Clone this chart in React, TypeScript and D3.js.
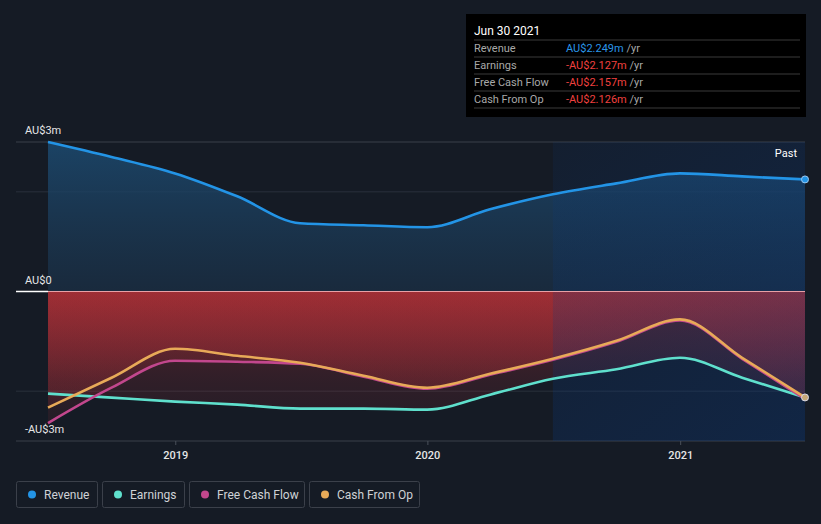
import React from "react";
import * as d3 from "d3";

const quarters = [
  "2018-06-30", "2018-09-30", "2018-12-31", "2019-03-31", "2019-06-30",
  "2019-09-30", "2019-12-31", "2020-03-31", "2020-06-30", "2020-09-30",
  "2020-12-31", "2021-03-31", "2021-06-30",
];
const revenue = [3.0, 2.7, 2.37, 1.91, 1.37, 1.33, 1.29, 1.65, 1.95, 2.17, 2.37, 2.31, 2.249];
const earnings = [-2.05, -2.13, -2.21, -2.27, -2.35, -2.35, -2.37, -2.07, -1.75, -1.56, -1.33, -1.73, -2.127];
const freeCashFlow = [-2.64, -1.93, -1.39, -1.41, -1.45, -1.71, -1.95, -1.67, -1.37, -1.01, -0.58, -1.35, -2.157];
const cashFromOp = [-2.33, -1.73, -1.15, -1.29, -1.43, -1.69, -1.93, -1.65, -1.35, -0.99, -0.56, -1.33, -2.126];

const yTickLabels = [
  { v: 3, label: "AU$3m" },
  { v: 0, label: "AU$0" },
  { v: -3, label: "-AU$3m" },
];
const gridValues = [3, 2, -2, -3];
const xTickYears = ["2019-01-01", "2020-01-01", "2021-01-01"];
const pastStart = "2020-06-30";

const tooltipTitle = "Jun 30 2021";
const tooltipRows = [
  { name: "Revenue", value: "AU$2.249m", neg: false },
  { name: "Earnings", value: "-AU$2.127m", neg: true },
  { name: "Free Cash Flow", value: "-AU$2.157m", neg: true },
  { name: "Cash From Op", value: "-AU$2.126m", neg: true },
];

const COLORS = {
  revenue: "#2394e6",
  earnings: "#5fe0cd",
  fcf: "#c2478d",
  cfo: "#e8aa58",
};
const legendItems = [
  { name: "Revenue", color: COLORS.revenue },
  { name: "Earnings", color: COLORS.earnings },
  { name: "Free Cash Flow", color: COLORS.fcf },
  { name: "Cash From Op", color: COLORS.cfo },
];

const W = 821;
const H = 524;
const FONT = "Roboto, 'Open Sans', sans-serif";

export default function App() {
  const parse = d3.timeParse("%Y-%m-%d");
  const dates = quarters.map((q) => parse(q) as Date);
  const x = d3.scaleTime().domain([dates[0], dates[dates.length - 1]]).range([48, 805]);
  const y = d3.scaleLinear().domain([-3, 3]).range([441, 142]);
  const y0 = y(0);

  const mk = (vals: number[]) => vals.map((v, i) => ({ d: dates[i], v }));
  const line = d3
    .line<{ d: Date; v: number }>()
    .x((p) => x(p.d))
    .y((p) => y(p.v))
    .curve(d3.curveMonotoneX);
  const area = d3
    .area<{ d: Date; v: number }>()
    .x((p) => x(p.d))
    .y0(y0)
    .y1((p) => y(p.v))
    .curve(d3.curveMonotoneX);

  const series = [
    { key: "earnings", vals: earnings, color: COLORS.earnings },
    { key: "fcf", vals: freeCashFlow, color: COLORS.fcf },
    { key: "cfo", vals: cashFromOp, color: COLORS.cfo },
  ];

  const px0 = x(parse(pastStart) as Date);
  const px1 = x.range()[1];
  const last = dates[dates.length - 1];

  const legendX = [16, 102, 189, 309];
  const legendW = [81, 82, 115, 110];

  return (
    <svg
      width={W}
      height={H}
      style={{ position: "absolute", left: 0, top: 0, fontFamily: FONT }}
    >
      <defs>
        <linearGradient id="revGrad" gradientUnits="userSpaceOnUse" x1="0" x2="0" y1={y(3)} y2={y0}>
          <stop offset="0" stopColor="#1c4a70" stopOpacity="0.85" />
          <stop offset="1" stopColor="#1c3650" stopOpacity="0.55" />
        </linearGradient>
        <linearGradient id="negGrad" gradientUnits="userSpaceOnUse" x1="0" x2="0" y1={y0} y2={y(-3)}>
          <stop offset="0" stopColor="#d0343a" stopOpacity="0.36" />
          <stop offset="0.6" stopColor="#c8323a" stopOpacity="0.15" />
          <stop offset="1" stopColor="#c8323a" stopOpacity="0.06" />
        </linearGradient>
        <linearGradient id="pastGrad" gradientUnits="userSpaceOnUse" x1={px0} y1="142" x2={px1} y2="441">
          <stop offset="0" stopColor="#0a3a80" stopOpacity="0.12" />
          <stop offset="1" stopColor="#0a3a80" stopOpacity="0.35" />
        </linearGradient>
      </defs>
      <rect x={0} y={0} width={W} height={H} fill="#151b25" />

      {gridValues.map((v) => (
        <line key={v} x1={16} x2={805} y1={y(v)} y2={y(v)} stroke={v === 3 || v === -3 ? "#3a404b" : "#2a313c"} strokeWidth={1} />
      ))}

      <path d={area(mk(revenue)) || ""} fill="url(#revGrad)" />
      {series.map((s) => (
        <path key={s.key} d={area(mk(s.vals)) || ""} fill="url(#negGrad)" />
      ))}

      <rect x={px0} y={142} width={px1 - px0} height={441 - 142} fill="url(#pastGrad)" />

      <line x1={16} x2={48} y1={y0} y2={y0} stroke="#ffffff" strokeWidth={1.5} />
      <line x1={48} x2={805} y1={y0} y2={y0} stroke="#e8a0a6" strokeWidth={1} />

      <path d={line(mk(revenue)) || ""} fill="none" stroke={COLORS.revenue} strokeWidth={2.6} />
      {series.map((s) => (
        <path key={s.key} d={line(mk(s.vals)) || ""} fill="none" stroke={s.color} strokeWidth={2.6} />
      ))}

      <circle cx={x(last)} cy={y(revenue[revenue.length - 1])} r={3.5} fill={COLORS.revenue} stroke="#9cc8f0" strokeWidth={1} />
      <circle cx={x(last)} cy={y(cashFromOp[cashFromOp.length - 1])} r={3.5} fill="#c8a878" stroke="#d8d8e8" strokeWidth={1} />

      {yTickLabels.map((t) => (
        <text key={t.label} x={25} y={y(t.v) - 8} fill="#e6e6e6" fontSize={11}>
          {t.label}
        </text>
      ))}

      {xTickYears.map((s) => {
        const d = parse(s) as Date;
        return (
          <g key={s}>
            <line x1={x(d)} x2={x(d)} y1={441} y2={445} stroke="#4a505a" />
            <text x={x(d)} y={459} textAnchor="middle" fill="#e6e6e6" fontSize={11} fontWeight={500}>
              {d3.timeFormat("%Y")(d)}
            </text>
          </g>
        );
      })}

      <text x={797} y={157} textAnchor="end" fill="#ffffff" fontSize={11}>
        Past
      </text>

      <rect x={466} y={14} width={340} height={103} fill="#000000" />
      <text x={474} y={35} fill="#ffffff" fontSize={12}>
        {tooltipTitle}
      </text>
      {tooltipRows.map((r, i) => (
        <g key={r.name}>
          <line x1={474} x2={800} y1={40 + i * 17} y2={40 + i * 17} stroke="#3a3a3a" />
          <text x={474} y={52 + i * 17} fill="#a8a8a8" fontSize={11}>
            {r.name}
          </text>
          <text x={566} y={52 + i * 17} fontSize={11}>
            <tspan fill={r.neg ? "#f0413f" : "#2a96e8"}>{r.value}</tspan>
            <tspan fill="#a8a8a8"> /yr</tspan>
          </text>
        </g>
      ))}
      <line x1={474} x2={800} y1={108} y2={108} stroke="#3a3a3a" />

      {legendItems.map((l, i) => (
        <g key={l.name}>
          <rect x={legendX[i] + 0.5} y={481.5} width={legendW[i]} height={26} rx={2} fill="none" stroke="#3b404a" />
          <circle cx={legendX[i] + 16} cy={494.5} r={4} fill={l.color} />
          <text x={legendX[i] + 28} y={498.5} fill="#cfd2d6" fontSize={12}>
            {l.name}
          </text>
        </g>
      ))}
    </svg>
  );
}
